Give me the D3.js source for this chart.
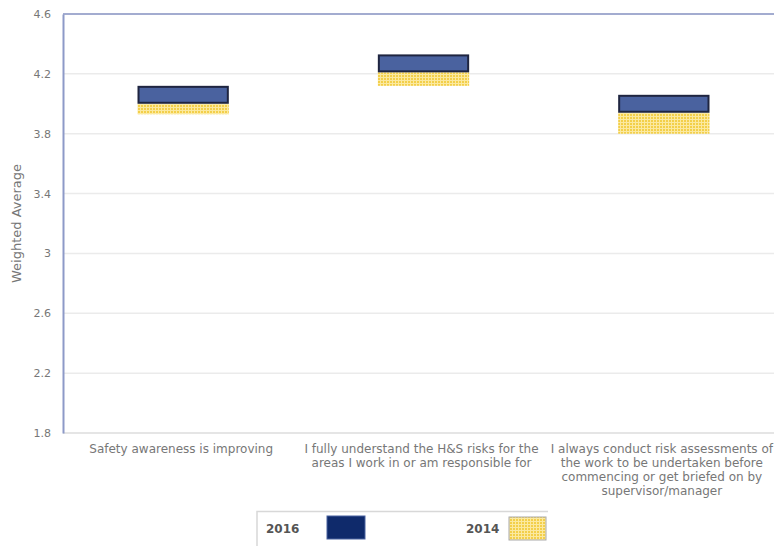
<html>
<head>
<style>
  body { margin: 0; background: #fff; }
  svg text { font-family: "DejaVu Sans", sans-serif; }
</style>
<script src="https://cdnjs.cloudflare.com/ajax/libs/d3/7.8.5/d3.min.js"></script>
</head>
<body>
<div id="chart"></div>
<script>
// categories and floating bar ranges (low, high)
const categories = [
  "Safety awareness is improving",
  "I fully understand the H&S risks for the areas I work in or am responsible for",
  "I always conduct risk assessments of the work to be undertaken before commencing or get briefed on by supervisor/manager"
];
const categoryLines = [
  ["Safety awareness is improving"],
  ["I fully understand the H&S risks for the", "areas I work in or am responsible for"],
  ["I always conduct risk assessments of", "the work to be undertaken before", "commencing or get briefed on by", "supervisor/manager"]
];
const low2016 = [4.00, 4.21, 3.94];
const high2016 = [4.12, 4.33, 4.06];
const low2014 = [3.93, 4.12, 3.80];
const high2014 = [4.00, 4.21, 3.94];
const yTicks = [1.8, 2.2, 2.6, 3, 3.4, 3.8, 4.2, 4.6];

const W = 774, H = 546;
const plotL = 63, plotT = 14, plotB = 433, plotR = 784;

const svg = d3.select("#chart").append("svg")
  .attr("width", W).attr("height", H);

const defs = svg.append("defs");
const pat = defs.append("pattern")
  .attr("id", "dots").attr("patternUnits", "userSpaceOnUse")
  .attr("width", 3).attr("height", 3);
pat.append("rect").attr("width", 3).attr("height", 3).attr("fill", "#fbe9a0");
pat.append("rect").attr("width", 2).attr("height", 2).attr("fill", "#f3cf4a");

const x = d3.scaleBand().domain(categories).range([plotL, plotR]).paddingInner(0.62).paddingOuter(0.31);
const y = d3.scaleLinear().domain([1.8, 4.6]).range([plotB, plotT]);

// gridlines
svg.append("g").selectAll("line").data(yTicks.slice(1, -1)).join("line")
  .attr("x1", plotL).attr("x2", W)
  .attr("y1", d => y(d)).attr("y2", d => y(d))
  .attr("stroke", "#ebebeb").attr("stroke-width", 1.5);

// bottom line
svg.append("line").attr("x1", plotL).attr("x2", W)
  .attr("y1", y(1.8)).attr("y2", y(1.8))
  .attr("stroke", "#dcdcdc").attr("stroke-width", 1.5);

// top border
svg.append("line").attr("x1", plotL).attr("x2", W)
  .attr("y1", y(4.6)).attr("y2", y(4.6))
  .attr("stroke", "#a3acd0").attr("stroke-width", 2);

// y axis
const yAxis = svg.append("g").attr("transform", `translate(${plotL},0)`)
  .call(d3.axisLeft(y).tickValues(yTicks).tickSize(0).tickPadding(12).tickFormat(d3.format("")));
yAxis.select(".domain").attr("stroke", "#8d9ac8").attr("stroke-width", 2);
yAxis.selectAll("text").attr("fill", "#777").style("font-size", "11px")
  .style("font-family", "'DejaVu Sans', sans-serif");

svg.append("text")
  .attr("transform", `translate(21,${(plotT + plotB) / 2}) rotate(-90)`)
  .attr("text-anchor", "middle")
  .attr("fill", "#777").style("font-size", "13px")
  .text("Weighted Average");

// 2014 bars
svg.append("g").selectAll("rect").data(categories).join("rect")
  .attr("x", d => x(d))
  .attr("width", x.bandwidth())
  .attr("y", (d, i) => y(high2014[i]))
  .attr("height", (d, i) => y(low2014[i]) - y(high2014[i]))
  .attr("fill", "url(#dots)");

// 2016 bars
svg.append("g").selectAll("rect").data(categories).join("rect")
  .attr("x", d => x(d) + 1)
  .attr("width", x.bandwidth() - 2)
  .attr("y", (d, i) => y(high2016[i]) + 1)
  .attr("height", (d, i) => y(low2016[i]) - y(high2016[i]) - 2)
  .attr("fill", "#4a629f")
  .attr("stroke", "#1f2540").attr("stroke-width", 2);

// category labels
const cl = svg.append("g").selectAll("text").data(categories).join("text")
  .attr("text-anchor", "middle")
  .attr("fill", "#777").style("font-size", "12px");
cl.each(function (d, i) {
  const t = d3.select(this);
  categoryLines[i].forEach((line, j) => {
    t.append("tspan")
      .attr("x", x(d) + x.bandwidth() / 2 - 2)
      .attr("y", 453 + j * 14)
      .text(line);
  });
});

// legend
const lg = svg.append("g");
lg.append("path").attr("d", "M257,546 V511.5 H548")
  .attr("fill", "none").attr("stroke", "#d8d8d8").attr("stroke-width", 1.5);
lg.append("text").attr("x", 266).attr("y", 533)
  .attr("fill", "#555").style("font-size", "12px").style("font-weight", "bold").text("2016");
lg.append("rect").attr("x", 327).attr("y", 516).attr("width", 38).attr("height", 23)
  .attr("fill", "#0f2a6b").attr("stroke", "#4a62a0").attr("stroke-width", 1);
lg.append("text").attr("x", 466).attr("y", 533)
  .attr("fill", "#555").style("font-size", "12px").style("font-weight", "bold").text("2014");
lg.append("rect").attr("x", 509).attr("y", 517).attr("width", 37).attr("height", 23)
  .attr("fill", "url(#dots)").attr("stroke", "#aaa").attr("stroke-width", 1);
</script>
</body>
</html>
